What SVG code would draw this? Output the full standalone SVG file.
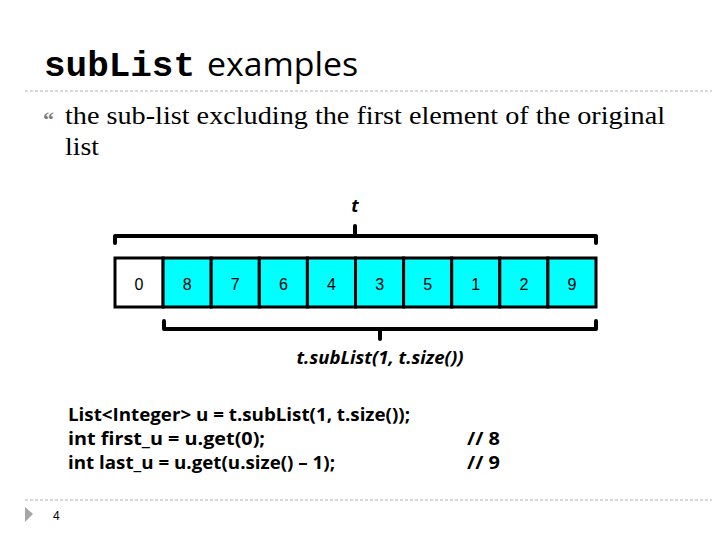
<svg xmlns="http://www.w3.org/2000/svg" width="720" height="540" viewBox="0 0 720 540">
<style>
.cell{stroke:#000;stroke-width:3}
.c{fill:#00ffff}
.w{fill:#fff}
.num{font-family:"Liberation Sans",Arial,sans-serif;font-size:16px;text-anchor:middle;fill:#000}
.br{fill:none;stroke:#000;stroke-width:4;stroke-linejoin:round;stroke-linecap:round}
.dash{stroke:#b0b0b0;stroke-width:1;stroke-dasharray:3,2}
.code{font-family:"Open Sans","DejaVu Sans",sans-serif;font-weight:bold;font-size:18px;fill:#000}
.lbl{font-family:"Open Sans","DejaVu Sans",sans-serif;font-weight:bold;font-style:italic;font-size:18px;fill:#000;text-anchor:middle}
.body{font-family:"Liberation Serif","DejaVu Serif",serif;font-size:25px;fill:#000}
</style>
<rect width="720" height="540" fill="#fff"/>
<g id="title">
<text x="44" y="76" font-family="'Liberation Mono','DejaVu Sans Mono',monospace" font-weight="bold" font-size="35" fill="#000" textLength="151" lengthAdjust="spacingAndGlyphs">subList</text>
<text x="207" y="76" font-family="'Open Sans','DejaVu Sans',sans-serif" font-size="33" fill="#000" textLength="151" lengthAdjust="spacingAndGlyphs">examples</text>
</g>
<line class="dash" x1="25" y1="91" x2="712" y2="91"/>
<g id="bullet">
<text x="43" y="127" font-family="'Liberation Serif',serif" font-weight="bold" font-size="22" fill="#7f7f7f">“</text>
<text class="body" x="65" y="124" textLength="600" lengthAdjust="spacingAndGlyphs">the sub-list excluding the first element of the original</text>
<text class="body" x="65" y="155" textLength="34" lengthAdjust="spacingAndGlyphs">list</text>
</g>
<g id="array">
<rect class="cell w" x="115" y="258" width="48.1" height="49"/>
<rect class="cell c" x="163.1" y="258" width="48.1" height="49"/>
<rect class="cell c" x="211.2" y="258" width="48.1" height="49"/>
<rect class="cell c" x="259.3" y="258" width="48.1" height="49"/>
<rect class="cell c" x="307.4" y="258" width="48.1" height="49"/>
<rect class="cell c" x="355.5" y="258" width="48.1" height="49"/>
<rect class="cell c" x="403.6" y="258" width="48.1" height="49"/>
<rect class="cell c" x="451.7" y="258" width="48.1" height="49"/>
<rect class="cell c" x="499.8" y="258" width="48.1" height="49"/>
<rect class="cell c" x="547.9" y="258" width="48.1" height="49"/>
<text class="num" x="139" y="290">0</text>
<text class="num" x="187.2" y="290">8</text>
<text class="num" x="235.3" y="290">7</text>
<text class="num" x="283.4" y="290">6</text>
<text class="num" x="331.5" y="290">4</text>
<text class="num" x="379.6" y="290">3</text>
<text class="num" x="427.7" y="290">5</text>
<text class="num" x="475.8" y="290">1</text>
<text class="num" x="523.9" y="290">2</text>
<text class="num" x="572" y="290">9</text>
</g>
<g id="connectors">
<path class="br" d="M115,243 V236 H596 V243"/>
<path class="br" d="M355,236 V226"/>
<path class="br" d="M164,321 V329 H596 V321"/>
<path class="br" d="M380,329 V339"/>
</g>
<g id="labels">
<text class="lbl" x="355" y="212">t</text>
<text class="lbl" x="380" y="364" textLength="167" lengthAdjust="spacingAndGlyphs">t.subList(1, t.size())</text>
</g>
<g id="code">
<text class="code" x="68" y="421" textLength="342" lengthAdjust="spacingAndGlyphs">List&lt;Integer&gt; u = t.subList(1, t.size());</text>
<text class="code" x="68" y="445" textLength="197" lengthAdjust="spacingAndGlyphs">int first_u = u.get(0);</text>
<text class="code" x="68" y="469" textLength="267" lengthAdjust="spacingAndGlyphs">int last_u = u.get(u.size() – 1);</text>
<text class="code" x="467" y="445" textLength="33" lengthAdjust="spacingAndGlyphs">// 8</text>
<text class="code" x="467" y="469" textLength="33" lengthAdjust="spacingAndGlyphs">// 9</text>
</g>
<line class="dash" x1="25" y1="500" x2="712" y2="500"/>
<g id="footer">
<polygon points="25,507 33,514 25,522" fill="#a6a6a6"/>
<text x="53" y="520" font-family="'Liberation Sans',Arial,sans-serif" font-size="12" fill="#000">4</text>
</g>
</svg>
